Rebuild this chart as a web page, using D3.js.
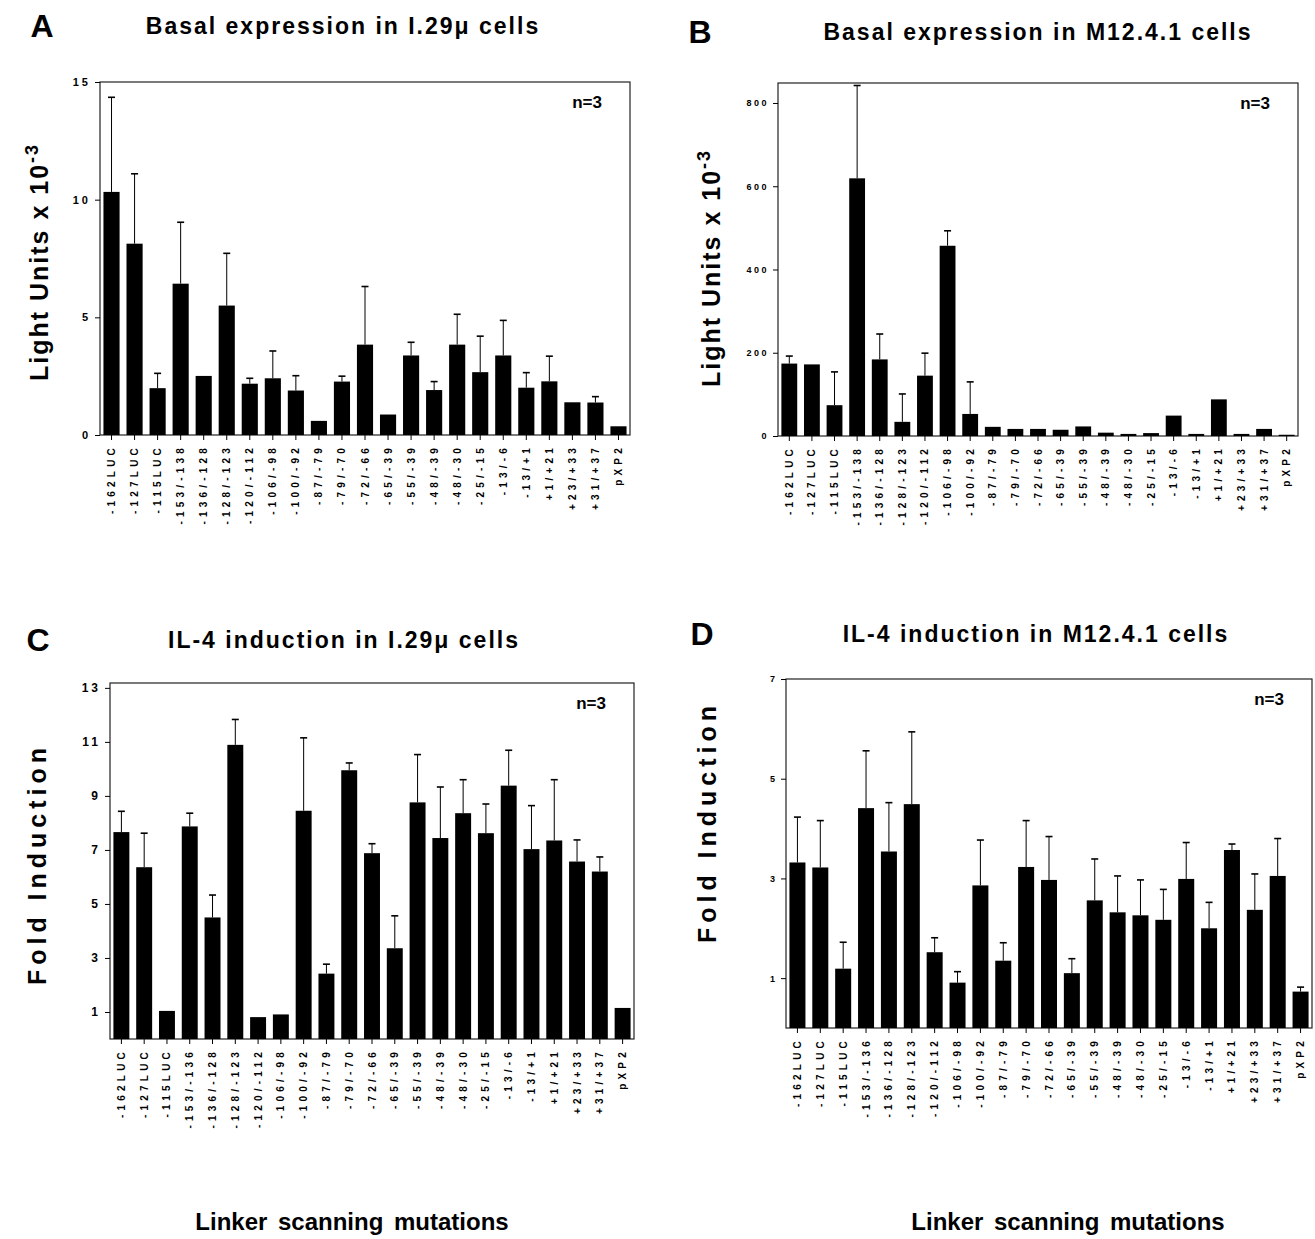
<!DOCTYPE html>
<html>
<head>
<meta charset="utf-8">
<script src="https://cdn.jsdelivr.net/npm/d3@7"></script>
<style>
    body { margin: 0; background: #fff; }
    svg { font-family: "Liberation Sans", Arial, sans-serif; }
</style>
</head>
<body>
<div id="figure"></div>
<script>
// category labels
const categoriesTop = ["-162LUC", "-127LUC", "-115LUC", "-153/-138", "-136/-128", "-128/-123", "-120/-112",
    "-106/-98", "-100/-92", "-87/-79", "-79/-70", "-72/-66", "-65/-39", "-55/-39", "-48/-39", "-48/-30",
    "-25/-15", "-13/-6", "-13/+1", "+1/+21", "+23/+33", "+31/+37", "pXP2"];
const categoriesBottom = ["-162LUC", "-127LUC", "-115LUC", "-153/-136", "-136/-128", "-128/-123", "-120/-112",
    "-106/-98", "-100/-92", "-87/-79", "-79/-70", "-72/-66", "-65/-39", "-55/-39", "-48/-39", "-48/-30",
    "-25/-15", "-13/-6", "-13/+1", "+1/+21", "+23/+33", "+31/+37", "pXP2"];

// A: basal expression in I.29u cells (light units x 10^-3)
const basalI29 = [10.33, 8.13, 1.99, 6.43, 2.51, 5.50, 2.18, 2.41, 1.89, 0.60, 2.27, 3.84,
    0.87, 3.38, 1.91, 3.84, 2.67, 3.38, 2.01, 2.28, 1.39, 1.38, 0.37];
const basalI29Err = [4.02, 2.97, 0.63, 2.61, 0, 2.22, 0.23, 1.16, 0.63, 0, 0.23, 2.47,
    0, 0.56, 0.36, 1.29, 1.53, 1.49, 0.64, 1.07, 0, 0.25, 0];

// B: basal expression in M12.4.1 cells
const basalM12 = [174, 172, 74, 619, 184, 34, 145, 457, 53, 22, 17, 17,
    15, 23, 8, 5, 7, 49, 5, 88, 5, 17, 3];
const basalM12Err = [18, 0, 80, 223, 61, 67, 54, 36, 77, 0, 0, 0,
    0, 0, 0, 0, 0, 0, 0, 0, 0, 0, 0];

// C: IL-4 induction in I.29u cells (fold)
const il4I29 = [7.66, 6.36, 1.04, 7.87, 4.50, 10.89, 0.81, 0.91, 8.45, 2.42, 9.95, 6.88,
    3.36, 8.76, 7.44, 8.36, 7.62, 9.38, 7.03, 7.35, 6.57, 6.20, 1.15];
const il4I29Err = [0.77, 1.26, 0, 0.49, 0.83, 0.94, 0, 0, 2.70, 0.35, 0.27, 0.35,
    1.20, 1.77, 1.89, 1.24, 1.08, 1.31, 1.61, 2.25, 0.80, 0.54, 0];

// D: IL-4 induction in M12.4.1 cells
const il4M12 = [3.32, 3.22, 1.19, 4.41, 3.54, 4.49, 1.52, 0.91, 2.86, 1.35, 3.23, 2.97,
    1.10, 2.56, 2.32, 2.26, 2.17, 2.99, 2.00, 3.57, 2.37, 3.05, 0.73];
const il4M12Err = [0.91, 0.94, 0.53, 1.15, 0.98, 1.45, 0.29, 0.22, 0.91, 0.36, 0.93, 0.87,
    0.29, 0.83, 0.73, 0.71, 0.61, 0.73, 0.52, 0.12, 0.72, 0.75, 0.09];

// y ticks
const ticksA = [0, 5, 10, 15];
const ticksB = [0, 200, 400, 600, 800];
const ticksC = [1, 3, 5, 7, 9, 11, 13];
const ticksD = [1, 3, 5, 7];

let width = 1315;
let height = 1239;

let svg = d3.select("#figure")
    .append("svg")
    .attr("width", width)
    .attr("height", height);

function drawPanel(opt) {
    let g = svg.append("g");

    let xScale = d3.scaleBand()
        .domain(opt.categories)
        .range([opt.left, opt.right])
        .paddingInner(0.3)
        .paddingOuter(0.15);

    let yScale = d3.scaleLinear()
        .domain([0, opt.yMax])
        .range([opt.bottom, opt.top]);

    let data = opt.categories.map(function (c, i) {
        return {cat: c, value: opt.values[i], err: opt.errors[i]};
    });

    // frame
    g.append("rect")
        .attr("x", opt.left)
        .attr("y", opt.top)
        .attr("width", opt.right - opt.left)
        .attr("height", opt.bottom - opt.top)
        .attr("fill", "none")
        .attr("stroke", "#222")
        .attr("stroke-width", 1.2);

    // bars
    g.selectAll("rect.bar")
        .data(data)
        .enter()
        .append("rect")
        .attr("class", "bar")
        .attr("x", function (d) { return xScale(d.cat); })
        .attr("y", function (d) { return yScale(d.value); })
        .attr("width", xScale.bandwidth())
        .attr("height", function (d) { return yScale(0) - yScale(d.value); })
        .attr("fill", "#000");

    // error bars (upper only)
    let withErr = data.filter(function (d) { return d.err > 0; });
    g.selectAll("line.err")
        .data(withErr)
        .enter()
        .append("line")
        .attr("class", "err")
        .attr("x1", function (d) { return xScale(d.cat) + xScale.bandwidth() / 2; })
        .attr("x2", function (d) { return xScale(d.cat) + xScale.bandwidth() / 2; })
        .attr("y1", function (d) { return yScale(d.value); })
        .attr("y2", function (d) { return yScale(d.value + d.err); })
        .attr("stroke", "#000")
        .attr("stroke-width", 1);
    g.selectAll("line.cap")
        .data(withErr)
        .enter()
        .append("line")
        .attr("class", "cap")
        .attr("x1", function (d) { return xScale(d.cat) + xScale.bandwidth() / 2 - 3.5; })
        .attr("x2", function (d) { return xScale(d.cat) + xScale.bandwidth() / 2 + 3.5; })
        .attr("y1", function (d) { return yScale(d.value + d.err); })
        .attr("y2", function (d) { return yScale(d.value + d.err); })
        .attr("stroke", "#000")
        .attr("stroke-width", 1.6);

    // y axis
    let yAxis = d3.axisLeft(yScale)
        .tickValues(opt.ticks)
        .tickSize(5)
        .tickPadding(4)
        .tickFormat(d3.format("d"));
    let ya = g.append("g")
        .attr("transform", `translate(${opt.left},0)`)
        .call(yAxis);
    ya.select(".domain").remove();
    ya.selectAll("text")
        .attr("font-size", opt.tickFont)
        .attr("font-weight", "bold")
        .attr("letter-spacing", opt.tickSpacing)
        .attr("fill", "#000");

    // x axis
    let xAxis = d3.axisBottom(xScale)
        .tickSize(5)
        .tickPadding(3);
    let xa = g.append("g")
        .attr("transform", `translate(0,${opt.bottom})`)
        .call(xAxis);
    xa.select(".domain").remove();
    xa.selectAll("text")
        .attr("transform", "rotate(-90)")
        .attr("text-anchor", "end")
        .attr("dominant-baseline", "central")
        .attr("x", -9)
        .attr("y", 0)
        .attr("dy", null)
        .attr("font-size", 10)
        .attr("font-weight", "bold")
        .attr("letter-spacing", 4.2)
        .attr("fill", "#000");

    // n=3
    g.append("text")
        .attr("x", opt.right - 28)
        .attr("y", opt.top + 26)
        .attr("text-anchor", "end")
        .attr("font-size", 17)
        .attr("font-weight", "bold")
        .text("n=3");

    // title
    g.append("text")
        .attr("x", opt.titleX)
        .attr("y", opt.titleY)
        .attr("text-anchor", "middle")
        .attr("font-size", 23)
        .attr("font-weight", "bold")
        .attr("letter-spacing", 2)
        .text(opt.title);

    // panel letter
    g.append("text")
        .attr("x", opt.letterX)
        .attr("y", opt.titleY + 3)
        .attr("text-anchor", "middle")
        .attr("font-size", 32)
        .attr("font-weight", "bold")
        .text(opt.letter);

    // y label
    let yl = g.append("text")
        .attr("transform", `translate(${opt.yLabelX},${opt.yLabelY}) rotate(-90)`)
        .attr("text-anchor", "middle")
        .attr("font-size", 25)
        .attr("font-weight", "bold")
        .attr("letter-spacing", opt.yLabelSpacing);
    yl.append("tspan").text(opt.yLabel);
    if (opt.yLabelSup) {
        yl.append("tspan")
            .attr("dy", -10)
            .attr("font-size", 18)
            .text(opt.yLabelSup);
    }
}

drawPanel({
    letter: "A", letterX: 42, title: "Basal expression in I.29\u03bc cells", titleX: 343, titleY: 34,
    categories: categoriesTop, values: basalI29, errors: basalI29Err,
    left: 100, right: 630, top: 82, bottom: 435, yMax: 15, ticks: ticksA,
    tickFont: 11, tickSpacing: 3,
    yLabel: "Light Units x 10", yLabelSup: "-3", yLabelSpacing: 2, yLabelX: 48, yLabelY: 262
});

drawPanel({
    letter: "B", letterX: 700, title: "Basal expression in M12.4.1 cells", titleX: 1038, titleY: 40,
    categories: categoriesTop, values: basalM12, errors: basalM12Err,
    left: 778, right: 1298, top: 83, bottom: 436, yMax: 848, ticks: ticksB,
    tickFont: 9, tickSpacing: 2.5,
    yLabel: "Light Units x 10", yLabelSup: "-3", yLabelSpacing: 2, yLabelX: 720, yLabelY: 268
});

drawPanel({
    letter: "C", letterX: 38, title: "IL-4 induction in I.29\u03bc cells", titleX: 344, titleY: 648,
    categories: categoriesBottom, values: il4I29, errors: il4I29Err,
    left: 110, right: 634, top: 683, bottom: 1039, yMax: 13.18, ticks: ticksC,
    tickFont: 12, tickSpacing: 3,
    yLabel: "Fold Induction", yLabelSup: null, yLabelSpacing: 5, yLabelX: 46, yLabelY: 864
});

drawPanel({
    letter: "D", letterX: 702, title: "IL-4 induction in M12.4.1 cells", titleX: 1036, titleY: 642,
    categories: categoriesBottom, values: il4M12, errors: il4M12Err,
    left: 786, right: 1312, top: 679, bottom: 1028, yMax: 7, ticks: ticksD,
    tickFont: 9, tickSpacing: 2,
    yLabel: "Fold Induction", yLabelSup: null, yLabelSpacing: 5, yLabelX: 716, yLabelY: 822
});

// bottom captions
svg.selectAll("text.caption")
    .data([352, 1068])
    .enter()
    .append("text")
    .attr("class", "caption")
    .attr("x", function (d) { return d; })
    .attr("y", 1230)
    .attr("text-anchor", "middle")
    .attr("font-size", 24)
    .attr("font-weight", "bold")
    .attr("word-spacing", 4)
    .text("Linker scanning mutations");
</script>
</body>
</html>
